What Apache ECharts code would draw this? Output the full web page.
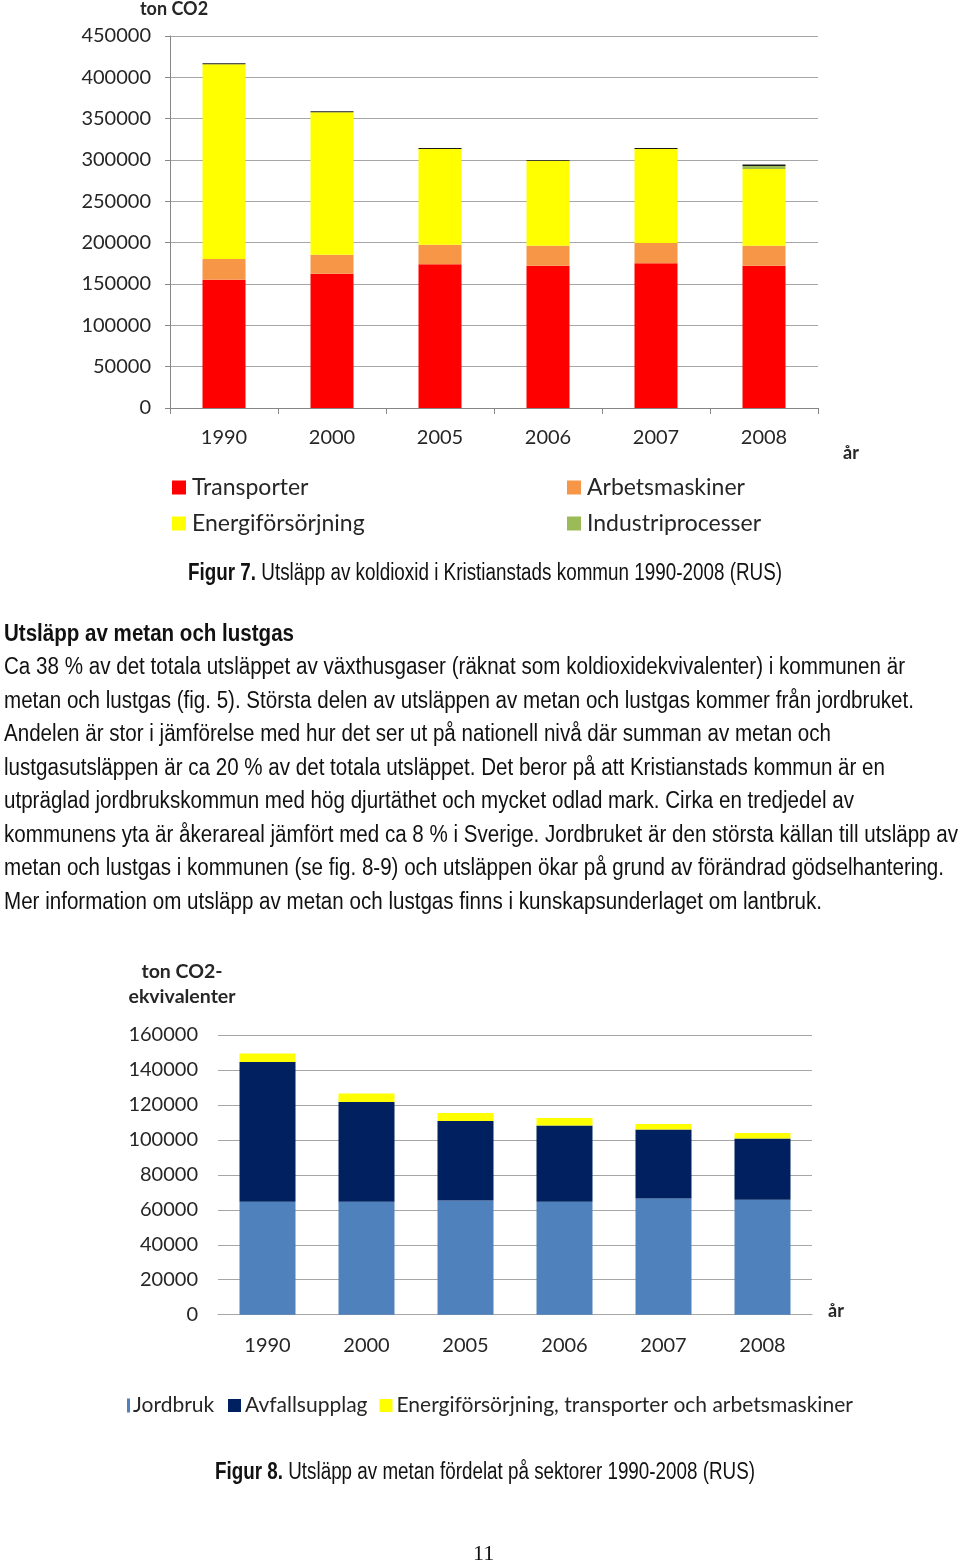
<!DOCTYPE html>
<html><head><meta charset="utf-8">
<script src="https://cdn.jsdelivr.net/npm/echarts@6/dist/echarts.min.js"></script>
<style>
html,body{margin:0;padding:0;background:#fff;}
#page{position:relative;width:960px;height:1563px;overflow:hidden;}
#chart{position:absolute;left:0;top:0;width:960px;height:1563px;}
.t{position:absolute;white-space:nowrap;font-family:"Liberation Sans Narrow","Liberation Sans",Arial,sans-serif;font-size:23px;color:#111;transform-origin:0 50%;line-height:30px;}
.b{font-weight:bold;}
.pn{position:absolute;font-family:"Liberation Serif","DejaVu Serif",serif;font-size:22px;color:#111;white-space:nowrap;line-height:26px;}
</style></head><body>
<div id="page">
<div id="chart"></div>
<div class="t" data-x="188" data-w="594" data-y="572"><span class="b">Figur 7.</span> Utsläpp av koldioxid i Kristianstads kommun 1990-2008 (RUS)</div>
<div class="t b" data-x="4" data-w="290" data-y="633">Utsläpp av metan och lustgas</div>
<div class="t" data-x="4" data-w="901" data-y="666">Ca 38 % av det totala utsläppet av växthusgaser (räknat som koldioxidekvivalenter) i kommunen är</div>
<div class="t" data-x="4" data-w="910" data-y="700">metan och lustgas (fig. 5). Största delen av utsläppen av metan och lustgas kommer från jordbruket.</div>
<div class="t" data-x="4" data-w="827" data-y="733">Andelen är stor i jämförelse med hur det ser ut på nationell nivå där summan av metan och</div>
<div class="t" data-x="4" data-w="881" data-y="767">lustgasutsläppen är ca 20 % av det totala utsläppet. Det beror på att Kristianstads kommun är en</div>
<div class="t" data-x="4" data-w="850" data-y="800">utpräglad jordbrukskommun med hög djurtäthet och mycket odlad mark. Cirka en tredjedel av</div>
<div class="t" data-x="4" data-w="954" data-y="834">kommunens yta är åkerareal jämfört med ca 8 % i Sverige. Jordbruket är den största källan till utsläpp av</div>
<div class="t" data-x="4" data-w="940" data-y="867">metan och lustgas i kommunen (se fig. 8-9) och utsläppen ökar på grund av förändrad gödselhantering.</div>
<div class="t" data-x="4" data-w="818" data-y="901">Mer information om utsläpp av metan och lustgas finns i kunskapsunderlaget om lantbruk.</div>
<div class="t" data-x="215" data-w="540" data-y="1471"><span class="b">Figur 8.</span> Utsläpp av metan fördelat på sektorer 1990-2008 (RUS)</div>
<div class="pn" style="left:473px;top:1540px;">11</div>
</div>
<script>
// ---- Data: Figure 7 (ton CO2) ----
var years = ['1990','2000','2005','2006','2007','2008'];
var transporter      = [155100, 162400, 173800, 172100, 175000, 172100];
var arbetsmaskiner   = [25100, 23000, 23700, 24200, 24500, 24200];
var energiforsorjning= [235600, 172300, 115800, 102800, 113800, 92800];
var industriprocesser= [0, 0, 0, 0, 0, 3600];
var ovrigt           = [1200, 1200, 1200, 800, 1200, 2000];
var yTicks1 = [0, 50000, 100000, 150000, 200000, 250000, 300000, 350000, 400000, 450000];

// ---- Data: Figure 8 (ton CO2-ekvivalenter) ----
var years2 = ['1990','2000','2005','2006','2007','2008'];
var jordbruk      = [64600, 64600, 65300, 64600, 66500, 65700];
var avfallsupplag = [80000, 57100, 45500, 43700, 39500, 35100];
var energiTransp  = [4800, 4800, 4600, 4200, 3100, 3100];
var yTicks2 = [0, 20000, 40000, 60000, 80000, 100000, 120000, 140000, 160000];

// fit text lines
document.querySelectorAll('.t').forEach(function(el){
  var x=+el.dataset.x, w=+el.dataset.w, y=+el.dataset.y;
  el.style.left=x+'px'; el.style.top=(y-15)+'px';
  var cw=el.getBoundingClientRect().width;
  if(cw>0) el.style.transform='scaleX('+(w/cw)+')';
});

var FONT = 'Lato, "Open Sans", sans-serif';
var TXT = '#262626';
var chart = echarts.init(document.getElementById('chart'), null, {renderer:'canvas'});

var option = {
  animation:false,
  textStyle:{fontFamily:FONT},
  grid:[
    {left:170, top:36, width:648, height:372},
    {left:218, top:1035, width:594, height:279.7}
  ],
  xAxis:[
    {type:'category', gridIndex:0, data:years,
     axisLine:{lineStyle:{color:'#868686'}},
     axisTick:{show:true, length:6, lineStyle:{color:'#868686'}},
     axisLabel:{fontFamily:FONT, fontSize:20, color:TXT, margin:20}},
    {type:'category', gridIndex:1, data:years2,
     axisLine:{show:true, lineStyle:{color:'#a6a6a6'}},
     axisTick:{show:false},
     axisLabel:{fontFamily:FONT, fontSize:20, color:TXT, margin:21}}
  ],
  yAxis:[
    {type:'value', gridIndex:0, min:0, max:450000, interval:50000,
     axisLine:{show:true, lineStyle:{color:'#868686'}},
     axisTick:{show:true, length:5, lineStyle:{color:'#868686'}},
     splitLine:{lineStyle:{color:'#a6a6a6'}},
     axisLabel:{fontFamily:FONT, fontSize:20, color:TXT, margin:19,
       formatter:function(v){return yTicks1.indexOf(v)>=0?String(v):'';}}},
    {type:'value', gridIndex:1, min:0, max:160000, interval:20000,
     axisLine:{show:false}, axisTick:{show:false},
     splitLine:{lineStyle:{color:'#a6a6a6'}},
     axisLabel:{fontFamily:FONT, fontSize:20, color:TXT, margin:20,
       formatter:function(v){return yTicks2.indexOf(v)>=0?String(v):'';}}}
  ],
  legend:[
    {left:172, top:476, padding:0, orient:'vertical', icon:'rect', itemWidth:14, itemHeight:14, itemGap:13,
     data:['Transporter','Energiförsörjning'],
     textStyle:{fontFamily:FONT, fontSize:23, color:TXT, padding:[0,0,0,1]}},
    {left:567, top:476, padding:0, orient:'vertical', icon:'rect', itemWidth:14, itemHeight:14, itemGap:13,
     data:['Arbetsmaskiner','Industriprocesser'],
     textStyle:{fontFamily:FONT, fontSize:23, color:TXT, padding:[0,0,0,1]}},
    {left:127, top:1395, padding:0, icon:'rect', itemWidth:3, itemHeight:14, data:['Jordbruk'],
     textStyle:{fontFamily:FONT, fontSize:21, color:TXT, padding:[0,0,0,-2]}},
    {left:228, top:1395, padding:0, icon:'rect', itemWidth:13, itemHeight:13, itemGap:12,
     data:['Avfallsupplag','Energiförsörjning, transporter och arbetsmaskiner'],
     textStyle:{fontFamily:FONT, fontSize:21, color:TXT, padding:[0,0,0,-1]}}
  ],
  graphic:[
    {type:'text', left:140, top:0, style:{text:'ton CO2', font:'bold 18px '+FONT, fill:TXT}},
    {type:'text', left:843, top:444, style:{text:'år', font:'bold 18px '+FONT, fill:TXT}},
    {type:'text', x:182, y:959, style:{text:'ton CO2-\nekvivalenter', font:'bold 19.5px '+FONT, fill:TXT, lineHeight:25, align:'center'}},
    {type:'text', left:828, top:1302, style:{text:'år', font:'bold 18px '+FONT, fill:TXT}}
  ],
  series:[
    {name:'Transporter', type:'bar', stack:'a', xAxisIndex:0, yAxisIndex:0, barWidth:43, data:transporter, itemStyle:{color:'#ff0000'}},
    {name:'Arbetsmaskiner', type:'bar', stack:'a', xAxisIndex:0, yAxisIndex:0, barWidth:43, data:arbetsmaskiner, itemStyle:{color:'#f79646'}},
    {name:'Energiförsörjning', type:'bar', stack:'a', xAxisIndex:0, yAxisIndex:0, barWidth:43, data:energiforsorjning, itemStyle:{color:'#ffff00'}},
    {name:'Industriprocesser', type:'bar', stack:'a', xAxisIndex:0, yAxisIndex:0, barWidth:43, data:industriprocesser, itemStyle:{color:'#9bbb59'}},
    {name:'Övrigt', type:'bar', stack:'a', xAxisIndex:0, yAxisIndex:0, barWidth:43, data:ovrigt, itemStyle:{color:'#1a1a1a'}},
    {name:'Jordbruk', type:'bar', stack:'b', xAxisIndex:1, yAxisIndex:1, barWidth:56, data:jordbruk, itemStyle:{color:'#4f81bd'}},
    {name:'Avfallsupplag', type:'bar', stack:'b', xAxisIndex:1, yAxisIndex:1, barWidth:56, data:avfallsupplag, itemStyle:{color:'#002060'}},
    {name:'Energiförsörjning, transporter och arbetsmaskiner', type:'bar', stack:'b', xAxisIndex:1, yAxisIndex:1, barWidth:56, data:energiTransp, itemStyle:{color:'#ffff00'}}
  ]
};
chart.setOption(option);
</script>
</body></html>
